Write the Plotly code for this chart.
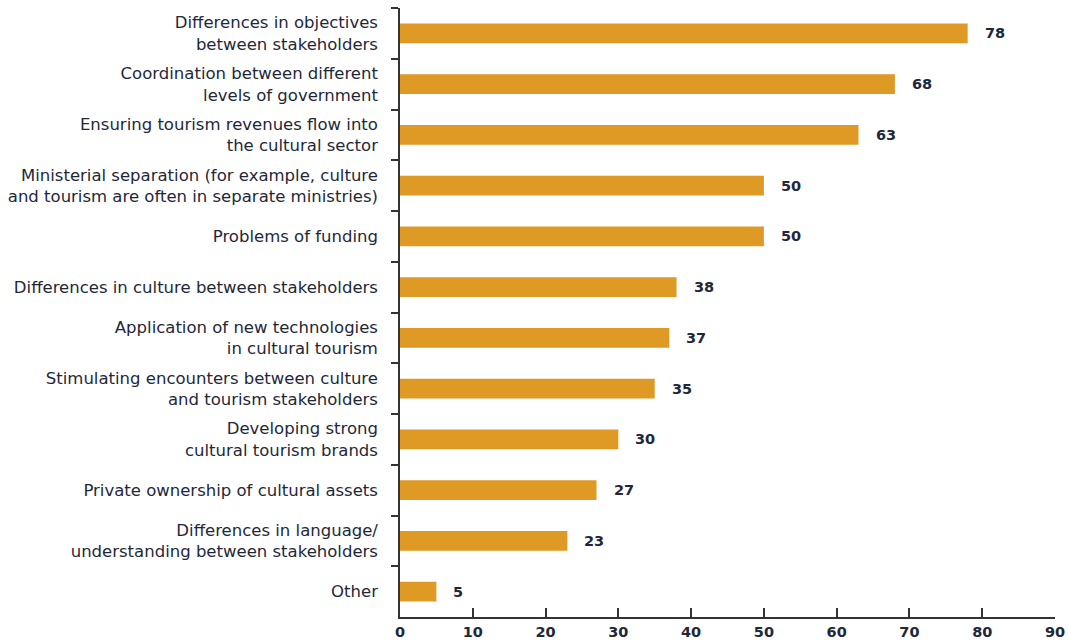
import plotly.graph_objects as go

categories = [
    "Differences in objectives<br>between stakeholders",
    "Coordination between different<br>levels of government",
    "Ensuring tourism revenues flow into<br>the cultural sector",
    "Ministerial separation (for example, culture<br>and tourism are often in separate ministries)",
    "Problems of funding",
    "Differences in culture between stakeholders",
    "Application of new technologies<br>in cultural tourism",
    "Stimulating encounters between culture<br>and tourism stakeholders",
    "Developing strong<br>cultural tourism brands",
    "Private ownership of cultural assets",
    "Differences in language/<br>understanding between stakeholders",
    "Other",
]
values = [78, 68, 63, 50, 50, 38, 37, 35, 30, 27, 23, 5]
x_ticks = [0, 10, 20, 30, 40, 50, 60, 70, 80, 90]

BAR = "#DE9A24"
TXT = "#1e2838"
AX = "#333333"

fig = go.Figure(go.Bar(
    x=values, y=categories, orientation="h",
    marker=dict(color=BAR, line=dict(width=0)),
    width=0.39, hoverinfo="x+y",
))

for v, c in zip(values, categories):
    fig.add_annotation(x=v, y=c, text=str(v), showarrow=False,
                       xanchor="left", xshift=15,
                       font=dict(family="DejaVu Sans", size=14.5, color=TXT, weight="bold"))

fig.update_layout(
    width=1069, height=644,
    margin=dict(l=400, r=14, t=8, b=27),
    plot_bgcolor="white", paper_bgcolor="white",
    showlegend=False,
    bargap=0.6,
)
fig.update_xaxes(
    range=[0, 90], tickvals=x_ticks, ticktext=[str(t) for t in x_ticks],
    showgrid=False, zeroline=False, automargin=False,
    showline=True, linecolor=AX, linewidth=1.5,
    ticks="inside", ticklen=9, tickwidth=1.5, tickcolor=AX,
    tickfont=dict(family="DejaVu Sans", size=14.5, color=TXT, weight="bold"),
    ticklabelstandoff=1,
)
fig.update_yaxes(
    autorange="reversed", type="category", automargin=False,
    showgrid=False, zeroline=False,
    showline=True, linecolor=AX, linewidth=1.5,
    ticks="outside", tickson="boundaries", ticklen=7, tickwidth=1.5, tickcolor=AX,
    tickfont=dict(family="DejaVu Sans", size=16.5, color=TXT),
    ticklabelstandoff=17,
)

fig.write_html("out.html")
